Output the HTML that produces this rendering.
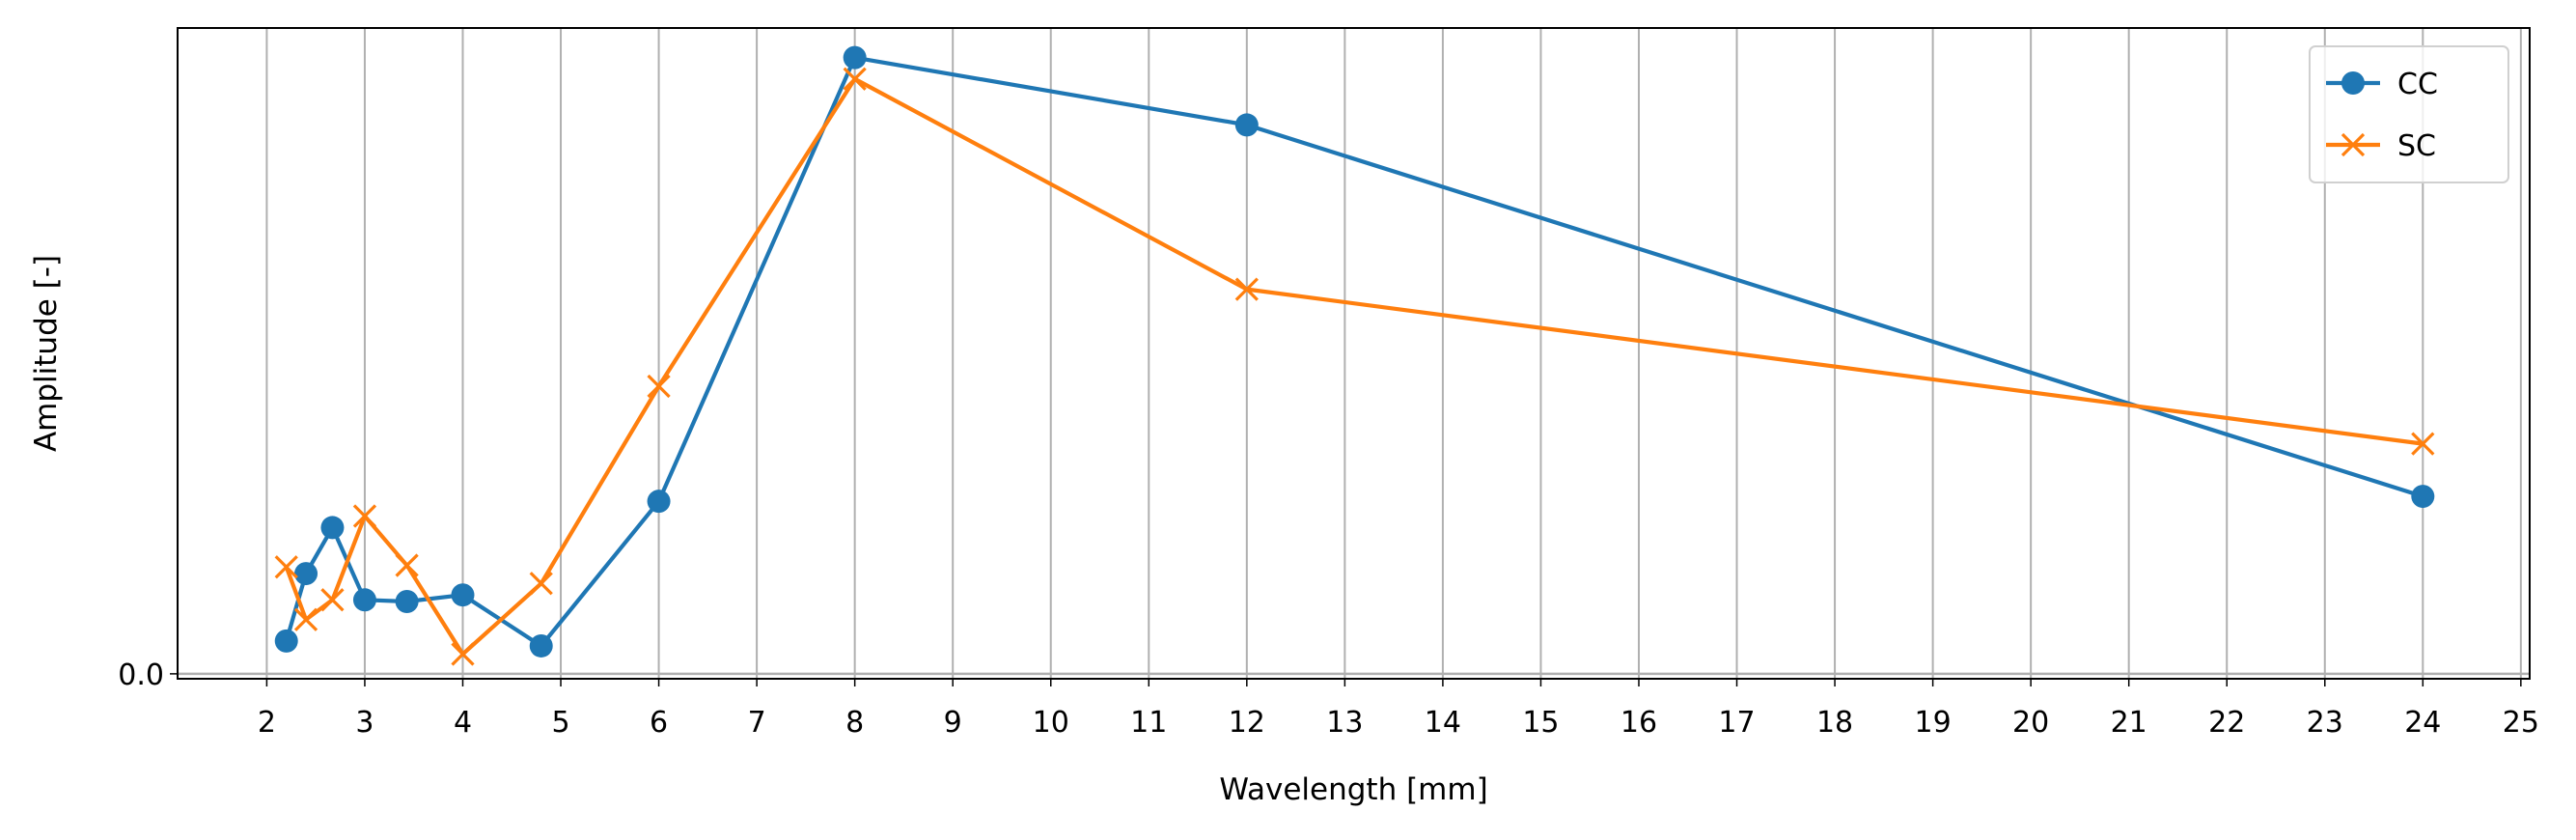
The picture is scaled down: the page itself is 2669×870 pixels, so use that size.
<!DOCTYPE html>
<html><head><meta charset="utf-8"><style>
body{margin:0;background:#fff}
svg{display:block;font-family:"DejaVu Sans","Liberation Sans",sans-serif}
</style></head><body>
<svg id="chart" width="2669" height="870"></svg>
<script>
const xs=[2.2,2.4,2.67,3,3.43,4,4.8,6,8,12,24];
const ccValues=[20,61,89,45,44,48,17,105,375,334,108];
const scValues=[65,33,45,96,66,12,55,175,362,234,140];
const xTicks=[2,3,4,5,6,7,8,9,10,11,12,13,14,15,16,17,18,19,20,21,22,23,24,25];
const yTicks=[0];
const L=184,R=2621,T=29,B=703;
const xmin=1.09,xmax=25.09,ymin=-3,ymax=393;
const sx=v=>L+(v-xmin)/(xmax-xmin)*(R-L);
const sy=v=>B-(v-ymin)/(ymax-ymin)*(B-T);
const svg=document.getElementById('chart');
const NS='http://www.w3.org/2000/svg';
function mk(t,a,p){const e=document.createElementNS(NS,t);for(const k in a)e.setAttribute(k,a[k]);(p||svg).appendChild(e);return e;}
mk('rect',{x:0,y:0,width:2669,height:870,fill:'#fff'});
xTicks.forEach(t=>{
 const g=mk('line',{x1:sx(t),x2:sx(t),y1:T,y2:B,stroke:'#b0b0b0','stroke-width':2});
 
 
 mk('line',{x1:sx(t),x2:sx(t),y1:B,y2:B+8,stroke:'#000','stroke-width':1.5});
 const tx=mk('text',{x:sx(t),y:B+55,'font-size':30,'text-anchor':'middle',fill:'#000'});
 tx.textContent=t;
 
 
});
yTicks.forEach(t=>{
 const g=mk('line',{x1:L,x2:R,y1:sy(t),y2:sy(t),stroke:'#b0b0b0','stroke-width':2.5});
 
 
 mk('line',{x1:L-8,x2:L,y1:sy(t),y2:sy(t),stroke:'#000','stroke-width':1.5});
 const tx=mk('text',{x:L-14,y:sy(t)+11,'font-size':30,'text-anchor':'end',fill:'#000'});
 tx.textContent=t.toFixed(1);
 
 
});
function series(vals,color,marker,name){
 const g=mk('g',{});
 
 
 mk('polyline',{points:xs.map((x,i)=>sx(x)+','+sy(vals[i])).join(' '),fill:'none',stroke:color,'stroke-width':4.2,'stroke-linejoin':'round'},g);
 xs.forEach((x,i)=>{
  const cx=sx(x),cy=sy(vals[i]);
  let m;
  if(marker==='o') m=mk('circle',{cx,cy,r:12,fill:color},g);
  else m=mk('path',{d:`M${cx-11},${cy-11}L${cx+11},${cy+11}M${cx-11},${cy+11}L${cx+11},${cy-11}`,stroke:color,'stroke-width':3.2},g);
  
  
 });
}
series(ccValues,'#1f77b4','o','cc');
series(scValues,'#ff7f0e','x','sc');
const ax=mk('rect',{x:L,y:T,width:R-L,height:B-T,fill:'none',stroke:'#000','stroke-width':2});


const xl=mk('text',{x:(L+R)/2,y:828,'font-size':31,'text-anchor':'middle'});
xl.textContent='Wavelength [mm]';


const yl=mk('text',{x:58,y:(T+B)/2,'font-size':31,'text-anchor':'middle',transform:`rotate(-90 58 ${(T+B)/2})`});
yl.textContent='Amplitude [-]';


const lg=mk('g',{});


mk('rect',{x:2393,y:48,width:206,height:141,rx:6,fill:'#fff','fill-opacity':0.8,stroke:'#d0d0d0','stroke-width':2},lg);
[['CC','#1f77b4','o',86],['SC','#ff7f0e','x',150]].forEach(([n,c,m,y])=>{
 const e=mk('g',{},lg);
 
 
 mk('line',{x1:2410,x2:2466,y1:y,y2:y,stroke:c,'stroke-width':4.2},e);
 if(m==='o') mk('circle',{cx:2438,cy:y,r:12,fill:c},e);
 else mk('path',{d:`M2427,${y-11}L2449,${y+11}M2427,${y+11}L2449,${y-11}`,stroke:c,'stroke-width':3.2},e);
 const t=mk('text',{x:2484,y:y+11,'font-size':30},e);t.textContent=n;
});
</script>
</body></html>
